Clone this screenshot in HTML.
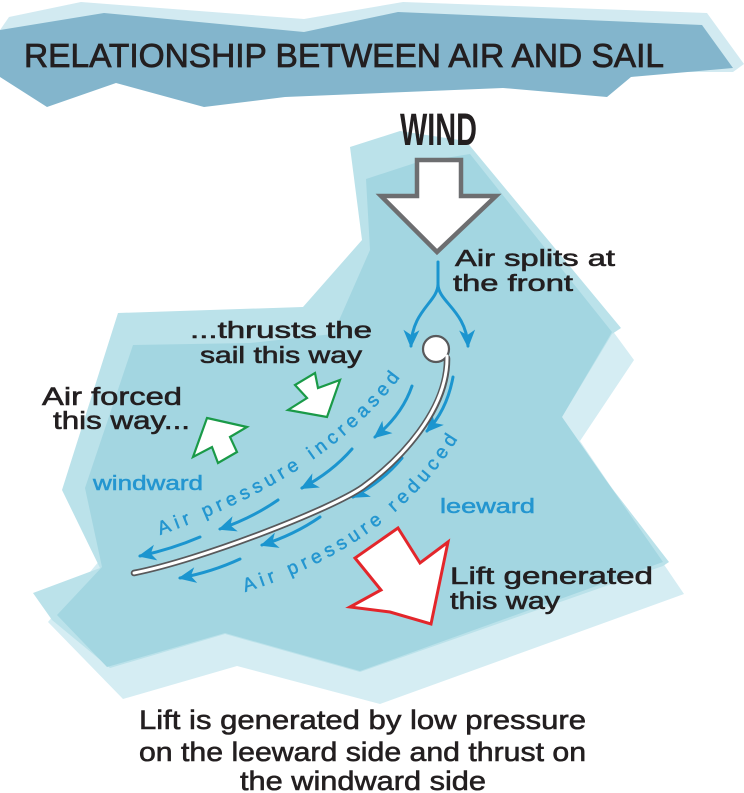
<!DOCTYPE html>
<html><head><meta charset="utf-8"><style>
html,body{margin:0;padding:0;background:#fff;}
svg{display:block;}
text{font-family:"Liberation Sans",sans-serif;}
</style></head><body>
<svg width="744" height="793" viewBox="0 0 744 793" xmlns="http://www.w3.org/2000/svg">
<defs>
<marker id="ah" markerUnits="userSpaceOnUse" markerWidth="26" markerHeight="22" viewBox="-20 -11 26 22" refX="0" refY="0" orient="auto">
<path d="M2,0 L-16,-8 L-11,0 L-16,8 Z" fill="#1b95cf"/>
</marker>
</defs>

<!-- Title banner -->
<polygon points="0,30 9,17 81,2 304,19 403,2 707,13 744,64 733,72 0,72" fill="#d2eaf1"/>
<polygon points="0,30 104,13 304,32 398,12 702,25 733,68 631,77 607,97 503,88 285,97 204,107 116,83 47,107 0,77" fill="#83b5cc"/>
<text x="24" y="67" font-size="33" textLength="640" lengthAdjust="spacingAndGlyphs" fill="#231f20" stroke="#231f20" stroke-width="0.8">RELATIONSHIP BETWEEN AIR AND SAIL</text>

<!-- Main background layers -->
<polygon points="612,330 634,360 580,441 684,594 380,704 237,666 123,699 48,622 100,560 300,400 500,300" fill="#d5edf3"/>
<polygon points="350,147 400,131 466,141 621,328 612,334 562,417 577,443 669,562 663,566 360,672 225,634 110,668 52,620 33,593 100,568 62,490 118,313 303,307 362,240" fill="#bbe2ea"/>
<polygon points="366,179 415,163 470,154 612,332 562,417 663,562 360,671 225,633 107,667 57,615 102,567 85,488 133,345 250,343 333,334 370,250" fill="#a3d6e1"/>

<!-- WIND -->
<text x="400" y="145" font-size="45" font-weight="bold" textLength="77" lengthAdjust="spacingAndGlyphs" fill="#231f20">WIND</text>
<polygon points="417,160 461,160 461,196 496,196 437,252 381,196 417,196" fill="#fff" stroke="#6d6e70" stroke-width="4.5" stroke-linejoin="miter"/>

<!-- Air splits -->
<text x="455" y="266" font-size="23" textLength="160" lengthAdjust="spacingAndGlyphs" fill="#231f20" stroke="#231f20" stroke-width="0.6">Air splits at</text>
<text x="453" y="291" font-size="23" textLength="120" lengthAdjust="spacingAndGlyphs" fill="#231f20" stroke="#231f20" stroke-width="0.6">the front</text>

<!-- split arrows -->
<g fill="none" stroke="#1b95cf" stroke-width="3" stroke-linecap="round">
<path d="M438,262 L438,284"/>
<path d="M438,284 C438,302 412,310 411,346" marker-end="url(#ah)"/>
<path d="M438,284 C438,302 466,310 468,346" marker-end="url(#ah)"/>
</g>

<!-- flow arrows -->
<g fill="none" stroke="#1b95cf" stroke-width="3" stroke-linecap="round">
<path d="M412,386 Q402,415 375,437" marker-end="url(#ah)"/>
<path d="M352,449 Q332,472 302,488" marker-end="url(#ah)"/>
<path d="M278,500 Q252,518 220,529" marker-end="url(#ah)"/>
<path d="M200,537 Q172,549 140,556" marker-end="url(#ah)"/>
<path d="M453,377 Q447,410 427,431" marker-end="url(#ah)"/>
<path d="M402,458 Q382,482 353,497" marker-end="url(#ah)"/>
<path d="M320,517 Q294,535 262,545" marker-end="url(#ah)"/>
<path d="M240,559 Q212,572 180,578" marker-end="url(#ah)"/>
</g>

<!-- pressure text -->
<path id="p1" d="M160,535 Q330,475 404,372" fill="none"/>
<path id="p2" d="M245,592 Q395,545 462,432" fill="none"/>
<text font-size="19" fill="#2496d0" stroke="#2496d0" stroke-width="0.5" letter-spacing="4.8"><textPath href="#p1">Air pressure increased</textPath></text>
<text font-size="19" fill="#2496d0" stroke="#2496d0" stroke-width="0.5" letter-spacing="4.8"><textPath href="#p2">Air pressure reduced</textPath></text>

<text x="93" y="490" font-size="20" textLength="110" lengthAdjust="spacingAndGlyphs" fill="#2496d0" stroke="#2496d0" stroke-width="0.5">windward</text>
<text x="440" y="513" font-size="20" textLength="95" lengthAdjust="spacingAndGlyphs" fill="#2496d0" stroke="#2496d0" stroke-width="0.5">leeward</text>

<!-- sail -->
<path d="M447,358 C448,410 400,460 363,487 C330,510 200,560 134,573" fill="none" stroke="#58595b" stroke-width="6.5" stroke-linecap="round"/>
<circle cx="436" cy="349" r="13" fill="#fff" stroke="#58595b" stroke-width="2.2"/>
<path d="M447,356 C448,410 400,460 363,487 C330,510 200,560 134,573" fill="none" stroke="#fff" stroke-width="3" stroke-linecap="round"/>
<circle cx="436" cy="349" r="11.5" fill="#fff"/>

<!-- green arrows -->
<polygon points="315,373 318,388 340,380 327,417 288,410 307,398 295,385" fill="#fff" stroke="#1a9a48" stroke-width="2.2" stroke-linejoin="miter"/>
<polygon points="207,418 247,427 230,437 237,452 218,463 212,447 193,457" fill="#fff" stroke="#1a9a48" stroke-width="2.2" stroke-linejoin="miter"/>

<!-- red arrow -->
<polygon points="398,528 420,563 448,542 431,624 390,612 350,607 381,590 355,558" fill="#fff" stroke="#e3262b" stroke-width="3" stroke-linejoin="miter"/>

<!-- black labels -->
<g fill="#231f20" stroke="#231f20" stroke-width="0.6">
<text x="190" y="338" font-size="23" textLength="182" lengthAdjust="spacingAndGlyphs">...thrusts the</text>
<text x="200" y="363" font-size="23" textLength="162" lengthAdjust="spacingAndGlyphs">sail this way</text>
<text x="42" y="405" font-size="25" textLength="140" lengthAdjust="spacingAndGlyphs">Air forced</text>
<text x="53" y="429" font-size="25" textLength="137" lengthAdjust="spacingAndGlyphs">this way...</text>
<text x="450" y="584" font-size="24" textLength="203" lengthAdjust="spacingAndGlyphs">Lift generated</text>
<text x="450" y="609" font-size="24" textLength="110" lengthAdjust="spacingAndGlyphs">this way</text>
<text x="139" y="729" font-size="27" textLength="447" lengthAdjust="spacingAndGlyphs">Lift is generated by low pressure</text>
<text x="139" y="761" font-size="27" textLength="447" lengthAdjust="spacingAndGlyphs">on the leeward side and thrust on</text>
<text x="240" y="790" font-size="27" textLength="246" lengthAdjust="spacingAndGlyphs">the windward side</text>
</g>
</svg>
</body></html>
